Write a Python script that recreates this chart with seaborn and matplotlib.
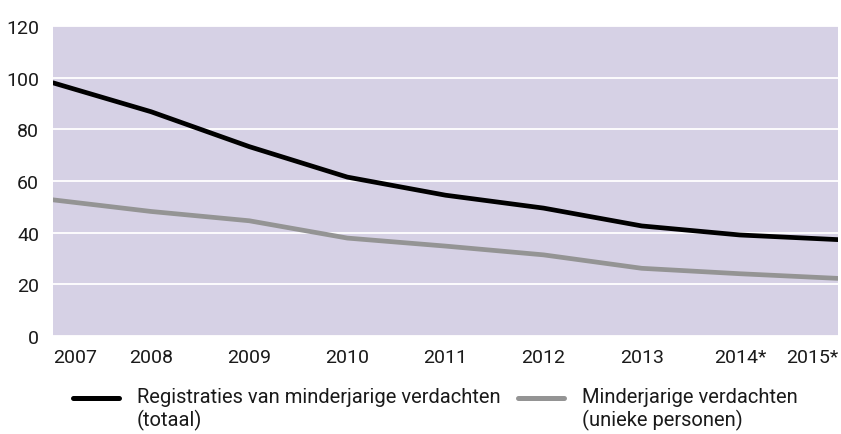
import pandas as pd
import seaborn as sns
import matplotlib.pyplot as plt

# data
jaren = [2007, 2008, 2009, 2010, 2011, 2012, 2013, 2014, 2015]
jaar_labels = ['2007', '2008', '2009', '2010', '2011', '2012', '2013', '2014*', '2015*']
registraties = [98.0, 86.8, 73.3, 61.5, 54.5, 49.5, 42.6, 39.1, 37.3]
unieke_personen = [52.7, 48.2, 44.6, 37.9, 34.8, 31.4, 26.2, 24.1, 22.3]

label_reg = 'Registraties van minderjarige verdachten\n(totaal)'
label_uniek = 'Minderjarige verdachten\n(unieke personen)'

df = pd.DataFrame({
    'Jaar': jaren * 2,
    'Aantal': registraties + unieke_personen,
    'Reeks': [label_reg] * len(jaren) + [label_uniek] * len(jaren),
})

sns.set_theme(style="white")
plt.rcParams['font.family'] = ['Roboto', 'DejaVu Sans']

fig = plt.figure(figsize=(8.41, 4.35), dpi=100)
ax = fig.add_axes([0.063, 0.2253, 0.9334, 0.7127])
ax.set_facecolor('#d6d1e5')

sns.lineplot(data=df, x='Jaar', y='Aantal', hue='Reeks',
             palette={label_reg: '#000000', label_uniek: '#949494'},
             linewidth=3.4, ax=ax, legend=False)

ax.set_xlim(2007, 2015)
ax.set_ylim(0, 120)
ax.set_yticks([0, 20, 40, 60, 80, 100, 120])
ax.set_xticks(jaren)
ax.set_xticklabels(jaar_labels)
ax.xaxis.get_majorticklabels()[0].set_horizontalalignment('left')
ax.xaxis.get_majorticklabels()[-1].set_horizontalalignment('right')
ax.tick_params(axis='both', length=0, labelsize=14, colors='#1a1a1a')
ax.tick_params(axis='y', pad=10)
ax.tick_params(axis='x', pad=9)
ax.set_xlabel('')
ax.set_ylabel('')
ax.grid(axis='y', color='white', linewidth=1.3)
ax.grid(axis='x', visible=False)
for s in ax.spines.values():
    s.set_visible(False)

handles = [plt.Line2D([], [], color='#000000', linewidth=3.6),
           plt.Line2D([], [], color='#949494', linewidth=3.6)]
leg = fig.legend(handles, [label_reg, label_uniek], loc='upper left',
                 bbox_to_anchor=(0.0868, 0.108), ncol=2, frameon=False,
                 fontsize=14.5, handlelength=2.28, handletextpad=0.88,
                 columnspacing=0.9, borderaxespad=0, borderpad=0,
                 labelcolor='#1a1a1a')
for t in leg.get_texts():
    t.set_linespacing(1.15)
# align the legend lines with the first text line, as in the source
for h in leg.legend_handles:
    h.set_ydata(h.get_ydata() + 7.5)

plt.savefig('out.png', dpi=100)
